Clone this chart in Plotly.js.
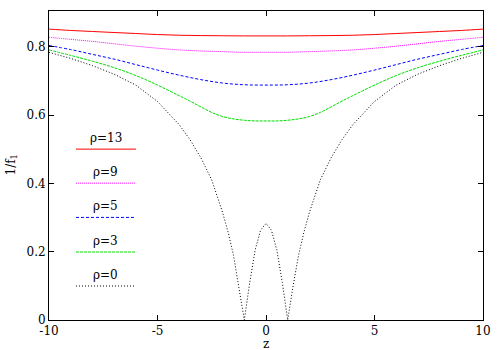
<!DOCTYPE html>
<html>
<head>
<meta charset="utf-8">
<script src="https://cdn.plot.ly/plotly-3.0.1.min.js"></script>
<style>html,body{margin:0;padding:0;background:#fff;}#chart{width:500px;height:350px;}</style>
</head>
<body>
<div id="chart"></div>
<script>
// z values (shared by smooth curves)
const zSmooth = [-10,-9,-8,-7,-6,-5,-4,-3,-2,-1,0,1,2,3,4,5,6,7,8,9,10];
const rho13 = [0.852,0.848,0.845,0.842,0.839,0.836,0.834,0.833,0.8325,0.832,0.832,0.832,0.8325,0.833,0.834,0.836,0.839,0.842,0.845,0.848,0.852];
const rho9  = [0.828,0.822,0.816,0.809,0.802,0.796,0.791,0.788,0.786,0.784,0.784,0.784,0.786,0.788,0.791,0.796,0.802,0.809,0.816,0.822,0.828];
const rho5  = [0.804,0.792,0.778,0.764,0.748,0.732,0.717,0.704,0.694,0.689,0.688,0.689,0.694,0.704,0.717,0.732,0.748,0.764,0.778,0.792,0.804];
const zGreen = [-10,-9,-8,-7,-6,-5,-4,-3.5,-3,-2.5,-2,-1.5,-1,-0.5,0,0.5,1,1.5,2,2.5,3,3.5,4,5,6,7,8,9,10];
const rho3  = [0.791,0.775,0.758,0.739,0.716,0.688,0.657,0.641,0.624,0.608,0.596,0.589,0.585,0.583,0.583,0.583,0.585,0.589,0.596,0.608,0.624,0.641,0.657,0.688,0.716,0.739,0.758,0.775,0.791];
const zBlack = [-10,-9,-8,-7,-6,-5,-4,-3.5,-3,-2.5,-2,-1.75,-1.5,-1.25,-1,-0.75,-0.5,-0.25,0,0.25,0.5,0.75,1,1.25,1.5,1.75,2,2.5,3,3.5,4,5,6,7,8,9,10];
const rho0  = [0.784,0.766,0.745,0.720,0.688,0.640,0.572,0.528,0.475,0.410,0.315,0.258,0.190,0.100,0.0,0.110,0.205,0.263,0.283,0.263,0.205,0.110,0.0,0.100,0.190,0.258,0.315,0.410,0.475,0.528,0.572,0.640,0.688,0.720,0.745,0.766,0.784];

const seriesNames = ['ρ=13','ρ=9','ρ=5','ρ=3','ρ=0'];
const seriesColors = ['#ff0000','#ff00ff','#0000ff','#00dd00','#000000'];
const seriesDash = ['solid','1px,1px','3px,2px','3px,1px','1px,2px'];
const xTicks = [-10,-5,0,5,10];
const xTickText = ['-10','-5','0','5','10'];
const yTicks = [0,0.2,0.4,0.6,0.8];
const yTickText = ['0','0.2','0.4','0.6','0.8'];

const xs = [zSmooth,zSmooth,zSmooth,zGreen,zBlack];
const ys = [rho13,rho9,rho5,rho3,rho0];

const traces = ys.map((y,i)=>({
  x: xs[i], y: y, type:'scatter', mode:'lines', name: seriesNames[i],
  line:{color:seriesColors[i], width:1, dash:seriesDash[i], shape: i===4 ? 'linear' : 'spline'},
  showlegend:false, hoverinfo:'skip'
}));

const fam = "DejaVu Serif";
const font = {family:fam, size:12, color:'#000'};
// legend drawn inside plot: label centred above sample line
const legY = [0.553,0.443,0.332,0.220,0.110];
const shapes = [];
const annotations = [];
seriesNames.forEach((n,i)=>{
  shapes.push({type:'line', xref:'paper', yref:'paper', x0:0.0622, x1:0.2005, y0:legY[i], y1:legY[i],
    line:{color:seriesColors[i], width:1, dash:seriesDash[i]}});
  annotations.push({xref:'paper', yref:'paper', x:0.131, y:legY[i], yshift:11, text:n, showarrow:false,
    xanchor:'center', yanchor:'middle', font:font});
});
// axis titles as annotations so they can sit where the reference has them
annotations.push({xref:'paper', yref:'paper', x:0.5, y:0, yshift:-24, text:'z', showarrow:false,
  xanchor:'center', yanchor:'middle', font:font});
annotations.push({xref:'paper', yref:'paper', x:0, xshift:-38, y:0.5, text:'1/f<sub>1</sub>', textangle:-90, showarrow:false,
  xanchor:'center', yanchor:'middle', font:font});

const layout = {
  width:500, height:350,
  margin:{l:49, r:17, t:11, b:30},
  paper_bgcolor:'#fff', plot_bgcolor:'#fff',
  font: font,
  showlegend:false,
  xaxis:{range:[-10,10], tickvals:xTicks, ticktext:xTickText, ticks:'inside', ticklen:5, tickcolor:'#000', mirror:'ticks',
    showline:true, linecolor:'#000', linewidth:1, showgrid:false, zeroline:false, tickfont:font},
  yaxis:{range:[0,0.905], tickvals:yTicks, ticktext:yTickText, ticks:'inside', ticklen:5, tickcolor:'#000', mirror:'ticks',
    showline:true, linecolor:'#000', linewidth:1, showgrid:false, zeroline:false, tickfont:font},
  shapes: shapes,
  annotations: annotations
};
Plotly.newPlot('chart', traces, layout, {displayModeBar:false, staticPlot:true});
</script>
</body>
</html>
